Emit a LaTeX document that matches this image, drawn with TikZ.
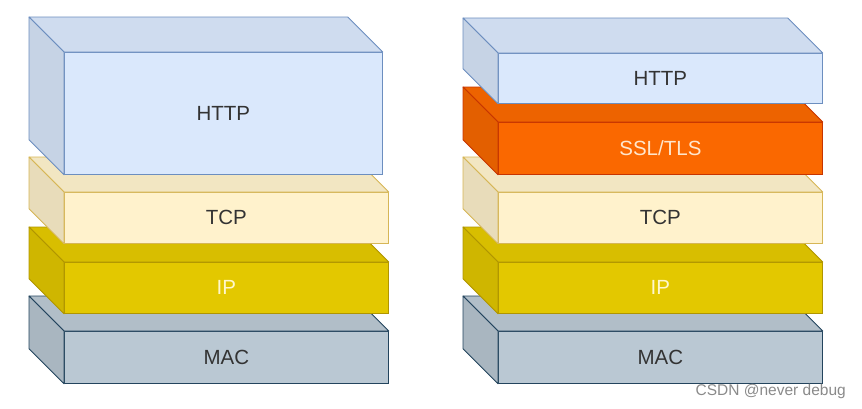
\documentclass[tikz,border=0pt]{standalone}
\usepackage{fontspec}
\setmainfont{Liberation Sans}
\usetikzlibrary{calc}
\definecolor{httpF}{HTML}{DAE8FC}\definecolor{httpS}{HTML}{6C8EBF}
\definecolor{tcpF}{HTML}{FFF2CC}\definecolor{tcpS}{HTML}{D6B656}
\definecolor{ipF}{HTML}{E3C800}\definecolor{ipS}{HTML}{B09500}
\definecolor{macF}{HTML}{BAC8D3}\definecolor{macS}{HTML}{23445D}
\definecolor{sslF}{HTML}{FA6800}\definecolor{sslS}{HTML}{C73500}
\definecolor{darktxt}{HTML}{333333}
\definecolor{iptxt}{HTML}{FFF7CC}
\definecolor{ssltxt}{HTML}{FFE6CC}
\definecolor{wm}{HTML}{8A8A8A}
\tikzset{
  layerbox/.style={anchor=north west, inner sep=0pt, line width=0.8pt,
    font=\fontsize{20.5}{23}\selectfont},
  wmark/.style={font=\fontsize{15.5}{18}\selectfont, text=wm, inner sep=0pt}
}
% #1 name, #2 x, #3 y(top), #4 width, #5 height, #6 fill, #7 stroke, #8 text colour, #9 text
\newcommand{\stacklayer}[9]{%
  \node[layerbox, draw=#7, fill=#6, text=#8, minimum width=#4pt, minimum height=#5pt] (#1) at (#2,-#3) {#9};
  \draw[line width=0.8pt, draw=#7, fill=#6!95!black, line join=round]
    (#1.north west) -- ++(-35,35) -- ($(#1.north east)+(-35,35)$) -- (#1.north east) -- cycle;
  \draw[line width=0.8pt, draw=#7, fill=#6!91!black, line join=round]
    (#1.north west) -- ++(-35,35) -- ($(#1.south west)+(-35,35)$) -- (#1.south west) -- cycle;
}
\begin{document}
\begin{tikzpicture}[x=1pt,y=1pt]
\useasboundingbox (0,0) rectangle (862,-408);
% left stack
\stacklayer{lmac}{64}{331}{324}{52}{macF}{macS}{darktxt}{MAC}
\stacklayer{lip}{64}{262}{324}{51}{ipF}{ipS}{iptxt}{IP}
\stacklayer{ltcp}{64}{192}{324}{51}{tcpF}{tcpS}{darktxt}{TCP}
\stacklayer{lhttp}{64}{52}{318}{122}{httpF}{httpS}{darktxt}{HTTP}
% right stack
\stacklayer{rmac}{498}{331}{324}{52}{macF}{macS}{darktxt}{MAC}
\stacklayer{rip}{498}{262}{324}{51}{ipF}{ipS}{iptxt}{IP}
\stacklayer{rtcp}{498}{192}{324}{51}{tcpF}{tcpS}{darktxt}{TCP}
\stacklayer{rssl}{498}{122}{324}{52}{sslF}{sslS}{ssltxt}{SSL/TLS}
\stacklayer{rhttp}{498}{53}{324}{50}{httpF}{httpS}{darktxt}{HTTP}
% watermark
\node[wmark, anchor=base east] (wm) at (846,-395) {CSDN @never debug};
\end{tikzpicture}
\end{document}
